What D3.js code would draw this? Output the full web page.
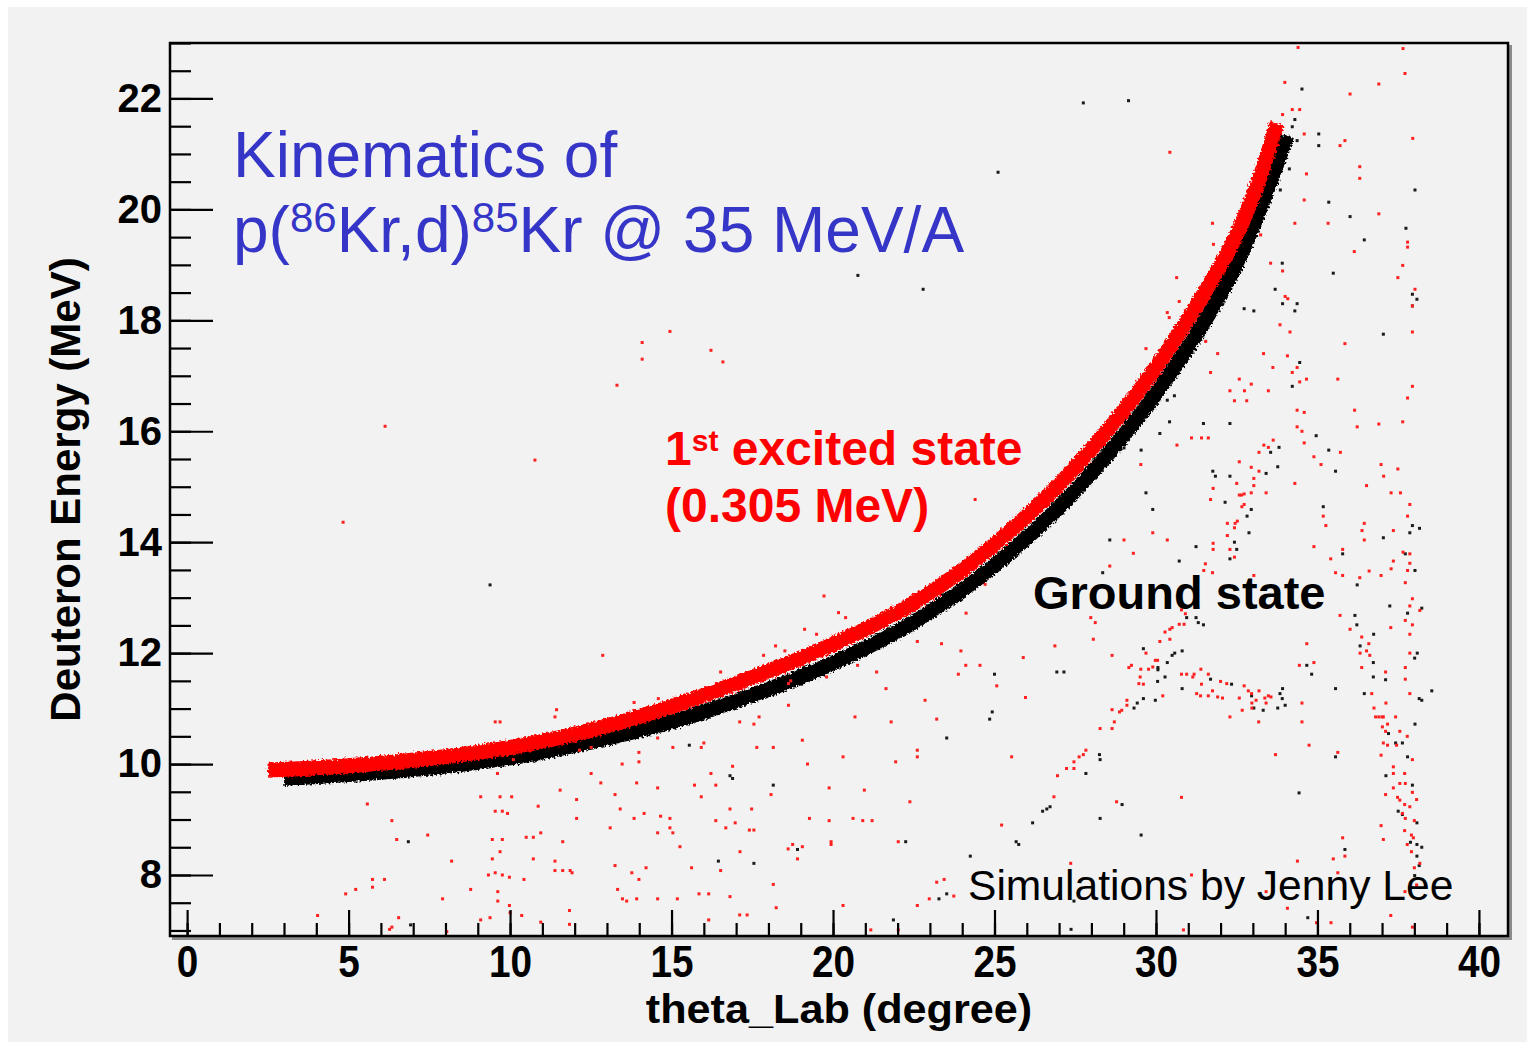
<!DOCTYPE html>
<html>
<head>
<meta charset="utf-8">
<script src="https://cdn.jsdelivr.net/npm/d3@7"></script>
<style>
  html, body { margin: 0; padding: 0; background: #ffffff; }
  svg { display: block; }
  text { font-family: "Liberation Sans", Arial, Helvetica, sans-serif; white-space: pre; }
</style>
</head>
<body>
<svg id="chart" width="1527" height="1042"></svg>
<script>
// ---- Axis ticks ----
const xMajorTicks = [0, 5, 10, 15, 20, 25, 30, 35, 40];
const xMinorTicks = d3.range(0, 41, 1);
const yMajorTicks = [8, 10, 12, 14, 16, 18, 20, 22];
const yMinorTicks = d3.range(7, 23.01, 0.5);

// ---- Kinematic bands (theta_Lab in degrees, deuteron energy in MeV) ----
// ground state band
const groundBand = [
  [3.0, 9.74], [5.0, 9.81], [7.5, 9.93], [10.0, 10.11], [12.5, 10.40],
  [15.0, 10.76], [17.5, 11.24], [20.0, 11.82], [22.5, 12.56], [25.0, 13.58],
  [27.5, 14.93], [30.0, 16.68], [31.5, 17.98], [32.5, 19.02], [33.2, 19.98],
  [34.06, 21.33]
];
// first excited state band (0.305 MeV)
const excitedBand = [
  [2.5, 9.89], [5.0, 9.97], [7.5, 10.10], [10.0, 10.30], [12.5, 10.61],
  [15.0, 11.04], [17.5, 11.56], [20.0, 12.16], [22.5, 12.90], [25.0, 13.96],
  [27.5, 15.35], [30.0, 17.15], [31.5, 18.50], [32.5, 19.55], [33.2, 20.55],
  [33.75, 21.55]
];

// ---- Scattered events outside the bands ----
const excitedHits = [
  [12.87,11.96],[11.44,10.98],[11.39,10.85],[9.54,10.76],[9.69,10.76],[13.84,11.11],[14.59,11.18],[9.61,9.83],[10.10,10.08],[12.15,10.25],
  [12.51,10.30],[13.47,10.00],[13.99,10.21],[13.99,10.04],[14.57,10.47],[12.51,9.83],[12.81,9.66],[13.92,9.66],[14.57,9.57],[9.09,9.41],
  [9.69,9.41],[10.05,9.41],[11.55,9.53],[12.06,9.36],[5.58,9.28],[9.54,9.15],[9.76,9.15],[9.92,9.11],[10.87,9.24],[13.25,9.45],
  [13.41,9.19],[13.84,9.02],[14.15,9.11],[12.06,9.02],[6.34,8.98],[6.49,8.64],[7.45,8.72],[9.45,8.64],[9.76,8.64],[10.50,8.68],
  [10.72,8.68],[10.95,8.76],[11.63,8.60],[13.10,8.85],[14.57,8.76],[9.69,8.42],[9.45,8.29],[10.72,8.29],[8.19,8.25],[11.39,8.25],
  [9.33,8.00],[9.54,8.04],[9.76,8.00],[9.98,7.96],[10.43,7.92],[11.39,8.08],[11.63,8.08],[11.86,8.08],[11.92,8.04],[13.25,8.17],
  [13.77,8.04],[13.99,7.92],[14.21,8.13],[4.91,7.66],[5.22,7.74],[5.74,7.92],[5.74,7.78],[6.11,7.92],[7.91,7.57],[8.78,7.74],
  [9.62,7.70],[9.62,7.53],[9.98,7.45],[10.00,7.32],[10.36,7.27],[13.33,7.74],[13.48,7.57],[13.61,7.53],[13.92,7.57],[14.57,7.57],
  [4.04,7.27],[6.55,7.23],[6.27,7.02],[6.34,7.06],[9.09,7.19],[9.38,7.23],[10.95,7.15],[11.84,7.36],[11.84,7.11],[8.04,6.98],
  [4.83,14.36],[6.13,16.09],[10.77,15.48],[13.31,16.83],[14.09,17.60],[14.09,17.30],[14.95,17.80],[16.22,17.46],[16.59,17.25],[24.40,14.77],
  [24.71,13.24],[19.72,13.03],[24.12,12.72],[20.17,12.73],[34.40,22.92],[37.65,22.90],[37.71,22.45],
  [20.39,12.64],[18.22,12.13],[17.85,11.96],[16.52,11.66],[19.12,12.43],[19.49,12.34],[18.51,12.04],[18.62,11.45],[18.69,11.50],[19.80,11.57],
  [18.62,11.06],[17.11,10.76],[17.55,10.72],[17.71,10.85],[20.76,11.78],[21.35,11.66],[21.64,11.36],[20.68,10.85],[21.80,10.76],[22.85,11.15],
  [23.21,10.81],[22.61,12.21],[23.36,12.17],[23.96,12.04],[24.11,11.78],[24.55,11.78],[23.88,11.62],[25.07,11.41],[25.89,11.92],[25.96,11.20],
  [26.87,12.13],[27.98,12.64],[28.06,12.25],[15.04,10.30],[15.92,10.30],[16.00,10.38],[17.64,10.30],[18.15,10.30],[19.05,10.43],[20.31,10.13],
  [19.21,10.00],[21.94,10.04],[22.61,10.25],[22.61,10.13],[25.53,10.13],[27.83,10.25],[27.62,10.13],[27.75,10.17],[27.46,10.04],[27.46,9.92],
  [27.23,9.92],[26.95,9.79],[15.71,9.62],[16.22,9.83],[16.37,9.62],[16.89,9.96],[15.92,9.41],[18.08,9.45],[19.88,9.57],[20.97,9.53],
  [22.38,9.32],[26.84,9.41],[14.66,9.06],[14.95,9.02],[14.95,8.85],[15.04,8.76],[16.37,8.98],[16.81,9.19],[16.97,8.94],[16.68,8.85],
  [17.48,9.19],[17.41,8.81],[17.55,8.81],[19.27,9.02],[19.88,8.98],[20.62,9.02],[20.92,8.98],[21.21,8.98],[15.26,8.51],[17.12,8.42],
  [18.75,8.55],[18.61,8.47],[19.05,8.51],[18.90,8.29],[19.94,8.60],[19.94,8.55],[22.02,8.60],[25.22,8.90],[15.62,8.13],[16.52,8.08],
  [15.18,7.57],[15.85,7.66],[16.15,7.66],[16.81,7.61],[18.15,7.83],[18.24,7.41],[17.11,7.28],[17.34,7.28],[16.15,7.19],[20.31,7.45],
  [22.61,7.45],[22.98,7.57],[23.21,7.87],[23.44,7.92],[23.74,7.62],[27.36,8.21],[21.17,7.01],[22.02,7.01],
  [28.12,12.55],[28.64,11.96],[29.16,11.74],[29.24,11.78],[29.53,11.71],[29.51,11.57],[29.47,11.45],[29.61,11.44],[29.77,11.71],[29.90,11.75],
  [29.98,11.87],[30.05,11.87],[29.69,12.00],[30.12,12.21],[30.28,12.38],[30.43,12.43],[30.50,12.46],[30.43,12.25],[30.72,12.52],[30.87,12.52],
  [30.79,12.78],[30.91,12.71],[30.79,11.62],[30.95,11.62],[31.14,11.57],[31.18,11.62],[31.39,11.71],[31.62,11.62],[32.00,11.49],[32.19,11.45],
  [32.73,11.41],[32.86,11.32],[32.96,11.27],[33.19,11.32],[31.41,11.44],[31.26,11.27],[31.38,11.23],[31.62,11.23],[31.75,11.32],[31.91,11.21],
  [32.06,11.19],[32.58,11.19],[32.67,10.97],[32.97,11.10],[32.97,11.01],[33.10,11.15],[33.37,11.19],[33.48,11.23],[33.56,11.21],[33.41,11.10],
  [33.18,10.76],[32.29,10.85],[34.52,11.10],[34.52,10.76],[34.67,12.17],[34.44,11.78],[34.89,11.83],[34.74,10.34],[33.70,10.17],[35.63,10.21],
  [35.70,12.68],[36.01,12.43],[36.37,12.29],[36.59,12.17],[36.32,12.00],[36.52,12.04],[36.62,11.96],[36.37,11.74],[36.68,11.27],[36.75,11.01],
  [36.80,10.85],[36.90,10.85],[37.00,10.85],[37.04,10.85],[37.11,11.66],[37.12,11.10],[37.42,10.85],[37.17,10.72],[37.01,10.67],[37.11,10.59],
  [37.04,10.38],[37.17,10.34],[36.97,10.16],[37.45,10.34],[37.78,10.50],[37.55,10.59],[37.94,10.08],[37.35,9.95],[37.35,9.83],[37.55,9.65],
  [37.70,9.83],[37.72,9.65],[37.35,9.57],[37.11,9.45],[37.94,9.49],[38.07,9.36],[37.48,9.40],[37.55,9.35],[37.70,9.27],[37.86,9.23],
  [37.63,9.11],[37.72,9.02],[38.00,8.98],[37.70,8.80],[37.91,8.72],[37.97,8.67],[37.78,8.55],[37.91,8.42],[38.00,8.13],[38.17,8.21],
  [38.07,7.82],[37.71,7.70],[36.97,8.89],[37.04,8.64],[37.27,12.46],[37.86,12.34],[37.94,12.51],[37.72,12.59],[38.17,12.77],[37.86,12.85],
  [37.72,11.74],[37.72,11.53],[37.86,11.27],[37.86,12.00],[28.27,10.64],[28.64,10.64],[28.71,10.76],[28.64,10.98],[28.87,10.94],[28.94,10.97],
  [29.10,11.15],[29.10,11.06],[30.21,11.23],[28.78,9.32],[30.79,9.40],[31.10,8.00],[33.41,7.70],[34.07,7.40],[34.38,8.25],[35.49,8.29],
  [35.78,8.67],[35.85,8.34],[35.63,8.04],[34.97,7.14],[35.42,7.14],[37.27,7.27],[37.94,7.06],[30.85,7.01],
  [33.99,22.29],[36.90,22.26],[36.01,22.08],[34.22,21.80],[34.45,21.80],[33.92,21.71],[34.59,21.36],[37.95,21.28],[35.70,21.15],[35.85,21.24],
  [30.43,21.03],[34.66,20.64],[36.31,20.77],[36.31,20.56],[34.59,20.17],[36.90,19.92],[34.30,19.75],[35.33,19.75],[31.75,19.75],[31.78,19.37],
  [33.24,19.54],[36.14,19.24],[33.55,19.03],[33.92,18.89],[37.79,19.41],[37.79,19.32],[37.64,18.99],[37.49,18.77],[38.02,18.56],[37.94,18.26],
  [34.00,18.43],[34.08,18.39],[33.84,17.92],[34.15,17.79],[30.64,18.77],[30.72,18.34],[30.35,18.14],[30.41,18.05],[29.69,17.49],[31.54,17.62],
  [31.91,17.40],[31.69,17.06],[33.33,17.40],[33.62,17.15],[34.07,17.36],[34.37,17.15],[34.22,17.06],[34.66,16.94],[34.45,16.89],[35.63,16.94],
  [35.85,17.58],[37.94,17.79],[37.94,16.81],[37.79,16.60],[33.48,16.73],[32.58,16.94],[32.95,16.85],[32.29,16.73],[32.43,16.55],[32.74,16.73],
  [32.81,16.55],[31.41,15.88],[31.62,15.88],[31.10,15.88],[30.65,15.75],[29.53,15.40],[33.34,15.75],[33.19,15.62],[33.48,15.71],[33.63,15.84],
  [32.58,15.45],[32.95,15.35],[33.19,15.28],[33.41,14.89],[32.95,14.89],[33.03,15.02],[33.03,15.15],[32.58,14.85],[32.65,14.85],[32.73,14.87],
  [32.50,15.06],[31.77,14.97],[31.69,14.77],[32.73,14.68],[32.66,14.64],[32.52,14.38],[32.45,14.34],[32.21,14.34],[32.21,14.12],[32.43,14.26],
  [32.29,13.87],[31.77,13.98],[31.77,13.87],[32.43,13.73],[31.53,13.61],[31.48,13.49],[31.75,13.45],[33.03,13.40],[34.30,15.06],[34.37,16.38],
  [34.59,16.34],[34.37,16.08],[34.52,16.00],[34.59,15.79],[34.89,15.54],[35.11,15.40],[35.18,14.47],[35.26,14.30],[36.15,16.38],[36.23,16.08],
  [36.90,16.13],[37.64,16.17],[36.52,15.02],[36.97,15.40],[37.05,15.19],[37.49,15.32],[37.28,14.89],[37.57,14.89],[37.86,14.68],[37.79,14.47],
  [36.45,14.34],[36.38,14.21],[36.45,14.04],[37.35,14.21],[37.65,13.82],[37.86,13.79],[37.35,13.66],[37.86,13.62],[37.79,13.49],[37.28,13.52],
  [36.60,13.48],[36.97,13.40],[36.31,13.36],[35.78,13.87],[35.41,13.70],[35.56,13.45],[35.78,13.40],[34.89,13.92],[29.90,14.17],[30.35,14.04],
  [29.01,14.04],[29.30,13.80],[28.57,13.57],[35.71,15.62],[37.72,13.27],[37.94,12.98]
];

const groundHits = [
  [6.85,8.60],[6.92,7.10],[25.11,20.67],[20.77,18.81],[22.79,18.56],[9.38,13.23],
  [15.55,10.34],[16.81,9.79],[16.89,9.74],[18.15,9.62],[16.45,8.25],[17.55,8.21],[18.90,8.46],[22.25,8.60],[23.52,10.47],[24.25,8.34],
  [24.85,10.81],[24.93,10.94],[25.00,11.62],[26.93,11.66],[27.15,11.66],[26.18,8.94],[26.49,9.15],[26.62,9.19],[26.72,9.23],[27.83,9.83],
  [28.25,10.17],[25.67,8.60],[25.75,8.55],[23.28,7.57],[23.52,7.66],[21.87,7.19],[27.37,7.02],
  [31.24,12.64],[31.31,12.55],[31.47,12.51],[30.95,12.64],[29.61,12.08],[30.35,11.83],[30.50,11.96],[30.58,12.00],[30.81,12.04],[30.06,11.74],
  [30.06,11.70],[30.28,11.57],[30.05,11.49],[29.61,11.18],[29.42,11.10],[29.32,11.01],[29.98,11.15],[30.81,11.36],[31.69,11.53],[32.34,11.44],
  [32.96,11.23],[33.03,11.01],[33.32,10.97],[33.77,11.01],[34.00,11.06],[33.92,11.36],[33.84,11.27],[33.91,11.18],[34.67,11.78],[34.82,11.62],
  [35.56,11.36],[36.16,12.68],[36.22,12.51],[36.74,12.34],[36.32,12.13],[36.73,11.83],[36.73,11.57],[37.11,11.52],[36.45,11.27],[37.24,12.85],
  [37.79,12.72],[38.23,12.81],[38.09,12.00],[38.01,11.91],[38.15,11.18],[38.23,11.15],[38.54,11.32],[38.02,10.72],[37.20,10.55],[37.42,10.38],
  [37.63,10.38],[37.79,10.13],[37.12,9.79],[37.94,9.62],[37.50,9.15],[37.63,9.09],[38.08,8.94],[37.88,8.59],[38.08,8.55],[38.23,8.50],
  [38.08,8.34],[38.15,8.17],[38.01,7.99],[35.56,10.13],[35.85,8.46],[34.43,9.48],[34.70,7.23],[28.27,10.08],[28.95,9.27],[28.27,9.02],
  [29.54,8.72],[27.46,7.53],
  [27.75,21.92],[29.15,21.96],[34.52,22.17],[34.30,21.62],[34.22,21.49],[34.37,21.24],[35.04,21.36],[35.04,21.15],[34.13,20.73],[33.85,20.35],
  [35.35,20.13],[36.01,19.87],[36.45,19.45],[38.02,20.35],[37.74,19.66],[33.91,19.03],[35.49,18.85],[33.69,18.56],[33.92,18.30],[34.37,18.30],
  [34.30,18.17],[32.73,18.21],[33.03,18.17],[37.04,17.75],[37.94,18.47],[38.08,18.38],[37.94,18.26],[34.45,17.24],[34.22,16.81],[34.96,15.92],
  [35.35,15.66],[35.56,15.28],[33.81,15.71],[33.55,15.62],[33.77,15.36],[33.41,15.24],[32.29,16.14],[31.47,16.14],[30.42,16.17],[30.12,15.96],
  [30.57,16.64],[30.35,16.56],[29.54,15.66],[29.01,15.70],[31.76,15.28],[31.84,15.19],[32.29,15.19],[32.14,14.72],[32.95,14.59],[32.82,14.47],
  [32.88,14.17],[32.43,14.00],[32.50,13.87],[32.29,13.70],[31.24,13.92],[30.72,13.66],[29.69,14.89],[29.90,14.59],[28.57,14.04],[28.35,13.45],
  [35.18,14.64],[37.04,14.08],[37.86,14.17],[37.94,14.30],[38.16,14.25],[37.72,13.79],[38.02,13.49],[35.78,13.79],[36.23,13.23]
];

// ---- Layout ----
const W = 1527, H = 1042;
const frame = { left: 170, top: 43, right: 1508, bottom: 936 };

const svg = d3.select("#chart");

// page panel
svg.append("rect").attr("x", 0).attr("y", 0).attr("width", W).attr("height", H).attr("fill", "#ffffff");
svg.append("rect").attr("x", 8).attr("y", 7).attr("width", W - 8).attr("height", H - 7).attr("fill", "#f2f2f2");

const x = d3.scaleLinear().domain([-0.53, 40.9]).range([frame.left, frame.right]);
const y = d3.scaleLinear().domain([6.9, 23.0]).range([frame.bottom, frame.top]);

const defs = svg.append("defs");
defs.append("clipPath").attr("id", "plotClip")
  .append("rect")
  .attr("x", frame.left).attr("y", frame.top)
  .attr("width", frame.right - frame.left).attr("height", frame.bottom - frame.top);

// grainy edge for the dense event bands
const grain = defs.append("filter").attr("id", "grain")
  .attr("x", "-5%").attr("y", "-5%").attr("width", "110%").attr("height", "110%");
grain.append("feTurbulence").attr("type", "fractalNoise")
  .attr("baseFrequency", 0.45).attr("numOctaves", 2).attr("seed", 7).attr("result", "noise");
grain.append("feDisplacementMap").attr("in", "SourceGraphic").attr("in2", "noise")
  .attr("scale", 6).attr("xChannelSelector", "R").attr("yChannelSelector", "G");

const plot = svg.append("g").attr("clip-path", "url(#plotClip)");

// ---- Bands ----
const bandLine = d3.line()
  .x(d => x(d[0]))
  .y(d => y(d[1]))
  .curve(d3.curveMonotoneX);

plot.append("path").datum(groundBand)
  .attr("d", bandLine)
  .attr("fill", "none").attr("stroke", "#000000")
  .attr("stroke-width", 15)
  .attr("filter", "url(#grain)");

// ---- Scattered events ----
const dot = 3;
plot.append("g").selectAll("rect").data(groundHits).join("rect")
  .attr("x", d => x(d[0]) - dot / 2).attr("y", d => y(d[1]) - dot / 2)
  .attr("width", dot).attr("height", dot).attr("fill", "#1a1a1a");

plot.append("path").datum(excitedBand)
  .attr("d", bandLine)
  .attr("fill", "none").attr("stroke", "#ff0000")
  .attr("stroke-width", 15)
  .attr("filter", "url(#grain)");

plot.append("g").selectAll("rect").data(excitedHits).join("rect")
  .attr("x", d => x(d[0]) - dot / 2).attr("y", d => y(d[1]) - dot / 2)
  .attr("width", dot).attr("height", dot).attr("fill", "#ff2020");

// ---- Axes (ticks point into the frame) ----
const yMinorAxis = d3.axisLeft(y).tickValues(yMinorTicks).tickSize(-21).tickFormat("");
const yMajorAxis = d3.axisLeft(y).tickValues(yMajorTicks).tickSize(-43).tickPadding(8).tickFormat(d3.format("d"));
const xMinorAxis = d3.axisBottom(x).tickValues(xMinorTicks).tickSize(-13).tickFormat("");
const xMajorAxis = d3.axisBottom(x).tickValues(xMajorTicks).tickSize(-26).tickPadding(10).tickFormat(d3.format("d"));

function styleAxis(g) {
  g.select(".domain").remove();
  g.selectAll(".tick line").attr("stroke", "#000").attr("stroke-width", 2.2);
}

svg.append("g").attr("transform", `translate(${frame.left},0)`).call(yMinorAxis).call(styleAxis);
const gy = svg.append("g").attr("transform", `translate(${frame.left},0)`).call(yMajorAxis).call(styleAxis);
gy.selectAll(".tick text")
  .attr("font-family", "'Liberation Sans', Arial, sans-serif")
  .attr("font-weight", "bold").attr("font-size", 40).attr("fill", "#000");

svg.append("g").attr("transform", `translate(0,${frame.bottom})`).call(xMinorAxis).call(styleAxis);
const gx = svg.append("g").attr("transform", `translate(0,${frame.bottom})`).call(xMajorAxis).call(styleAxis);
gx.selectAll(".tick text")
  .attr("font-family", "'Liberation Sans', Arial, sans-serif")
  .attr("font-weight", "bold").attr("font-size", 44).attr("fill", "#000")
  .attr("transform", "scale(0.88,1)");

// ---- Frame with drop shadow ----
svg.append("path")
  .attr("d", `M${frame.right + 2.5},${frame.top + 2} V${frame.bottom + 2.5} H${frame.left + 2}`)
  .attr("fill", "none").attr("stroke", "#8c8c8c").attr("stroke-width", 3);
svg.append("rect")
  .attr("x", frame.left).attr("y", frame.top)
  .attr("width", frame.right - frame.left).attr("height", frame.bottom - frame.top)
  .attr("fill", "none").attr("stroke", "#000").attr("stroke-width", 2.5);

// ---- Axis titles ----
const xTitleX = (frame.left + frame.right) / 2;
svg.append("text")
  .attr("transform", `translate(${xTitleX},1023) scale(1.08,1)`)
  .attr("text-anchor", "middle")
  .attr("font-weight", "bold").attr("font-size", 40)
  .attr("fill", "#000")
  .text("theta_Lab (degree)");

svg.append("text")
  .attr("transform", `translate(80,${(frame.top + frame.bottom) / 2}) rotate(-90)`)
  .attr("text-anchor", "middle")
  .attr("font-weight", "bold").attr("font-size", 42)
  .attr("fill", "#000")
  .text("Deuteron Energy (MeV)");

// ---- Title ----
const blue = "#3535c8";
svg.append("text").attr("x", 233).attr("y", 177)
  .attr("font-size", 64).attr("fill", blue).text("Kinematics of");
const t2 = svg.append("text").attr("x", 233).attr("y", 252).attr("font-size", 64).attr("fill", blue);
t2.append("tspan").text("p(");
t2.append("tspan").attr("font-size", 42).attr("dy", -20).text("86");
t2.append("tspan").attr("font-size", 64).attr("dy", 20).text("Kr,d)");
t2.append("tspan").attr("font-size", 42).attr("dy", -20).text("85");
t2.append("tspan").attr("font-size", 64).attr("dy", 20).text("Kr @ 35 MeV/A");

// ---- State labels ----
const ex1 = svg.append("text").attr("x", 665).attr("y", 465)
  .attr("font-weight", "bold").attr("font-size", 48).attr("fill", "#ff0000");
ex1.append("tspan").text("1");
ex1.append("tspan").attr("font-size", 30).attr("dy", -14).text("st");
ex1.append("tspan").attr("font-size", 48).attr("dy", 14).text(" excited state");
svg.append("text").attr("x", 665).attr("y", 522)
  .attr("font-weight", "bold").attr("font-size", 48).attr("fill", "#ff0000")
  .text("(0.305 MeV)");

svg.append("text").attr("x", 1033).attr("y", 609)
  .attr("font-weight", "bold").attr("font-size", 47).attr("fill", "#000")
  .text("Ground state");

svg.append("text").attr("x", 968).attr("y", 900)
  .attr("font-size", 42.6).attr("fill", "#000")
  .text("Simulations by Jenny Lee");
</script>
</body>
</html>
